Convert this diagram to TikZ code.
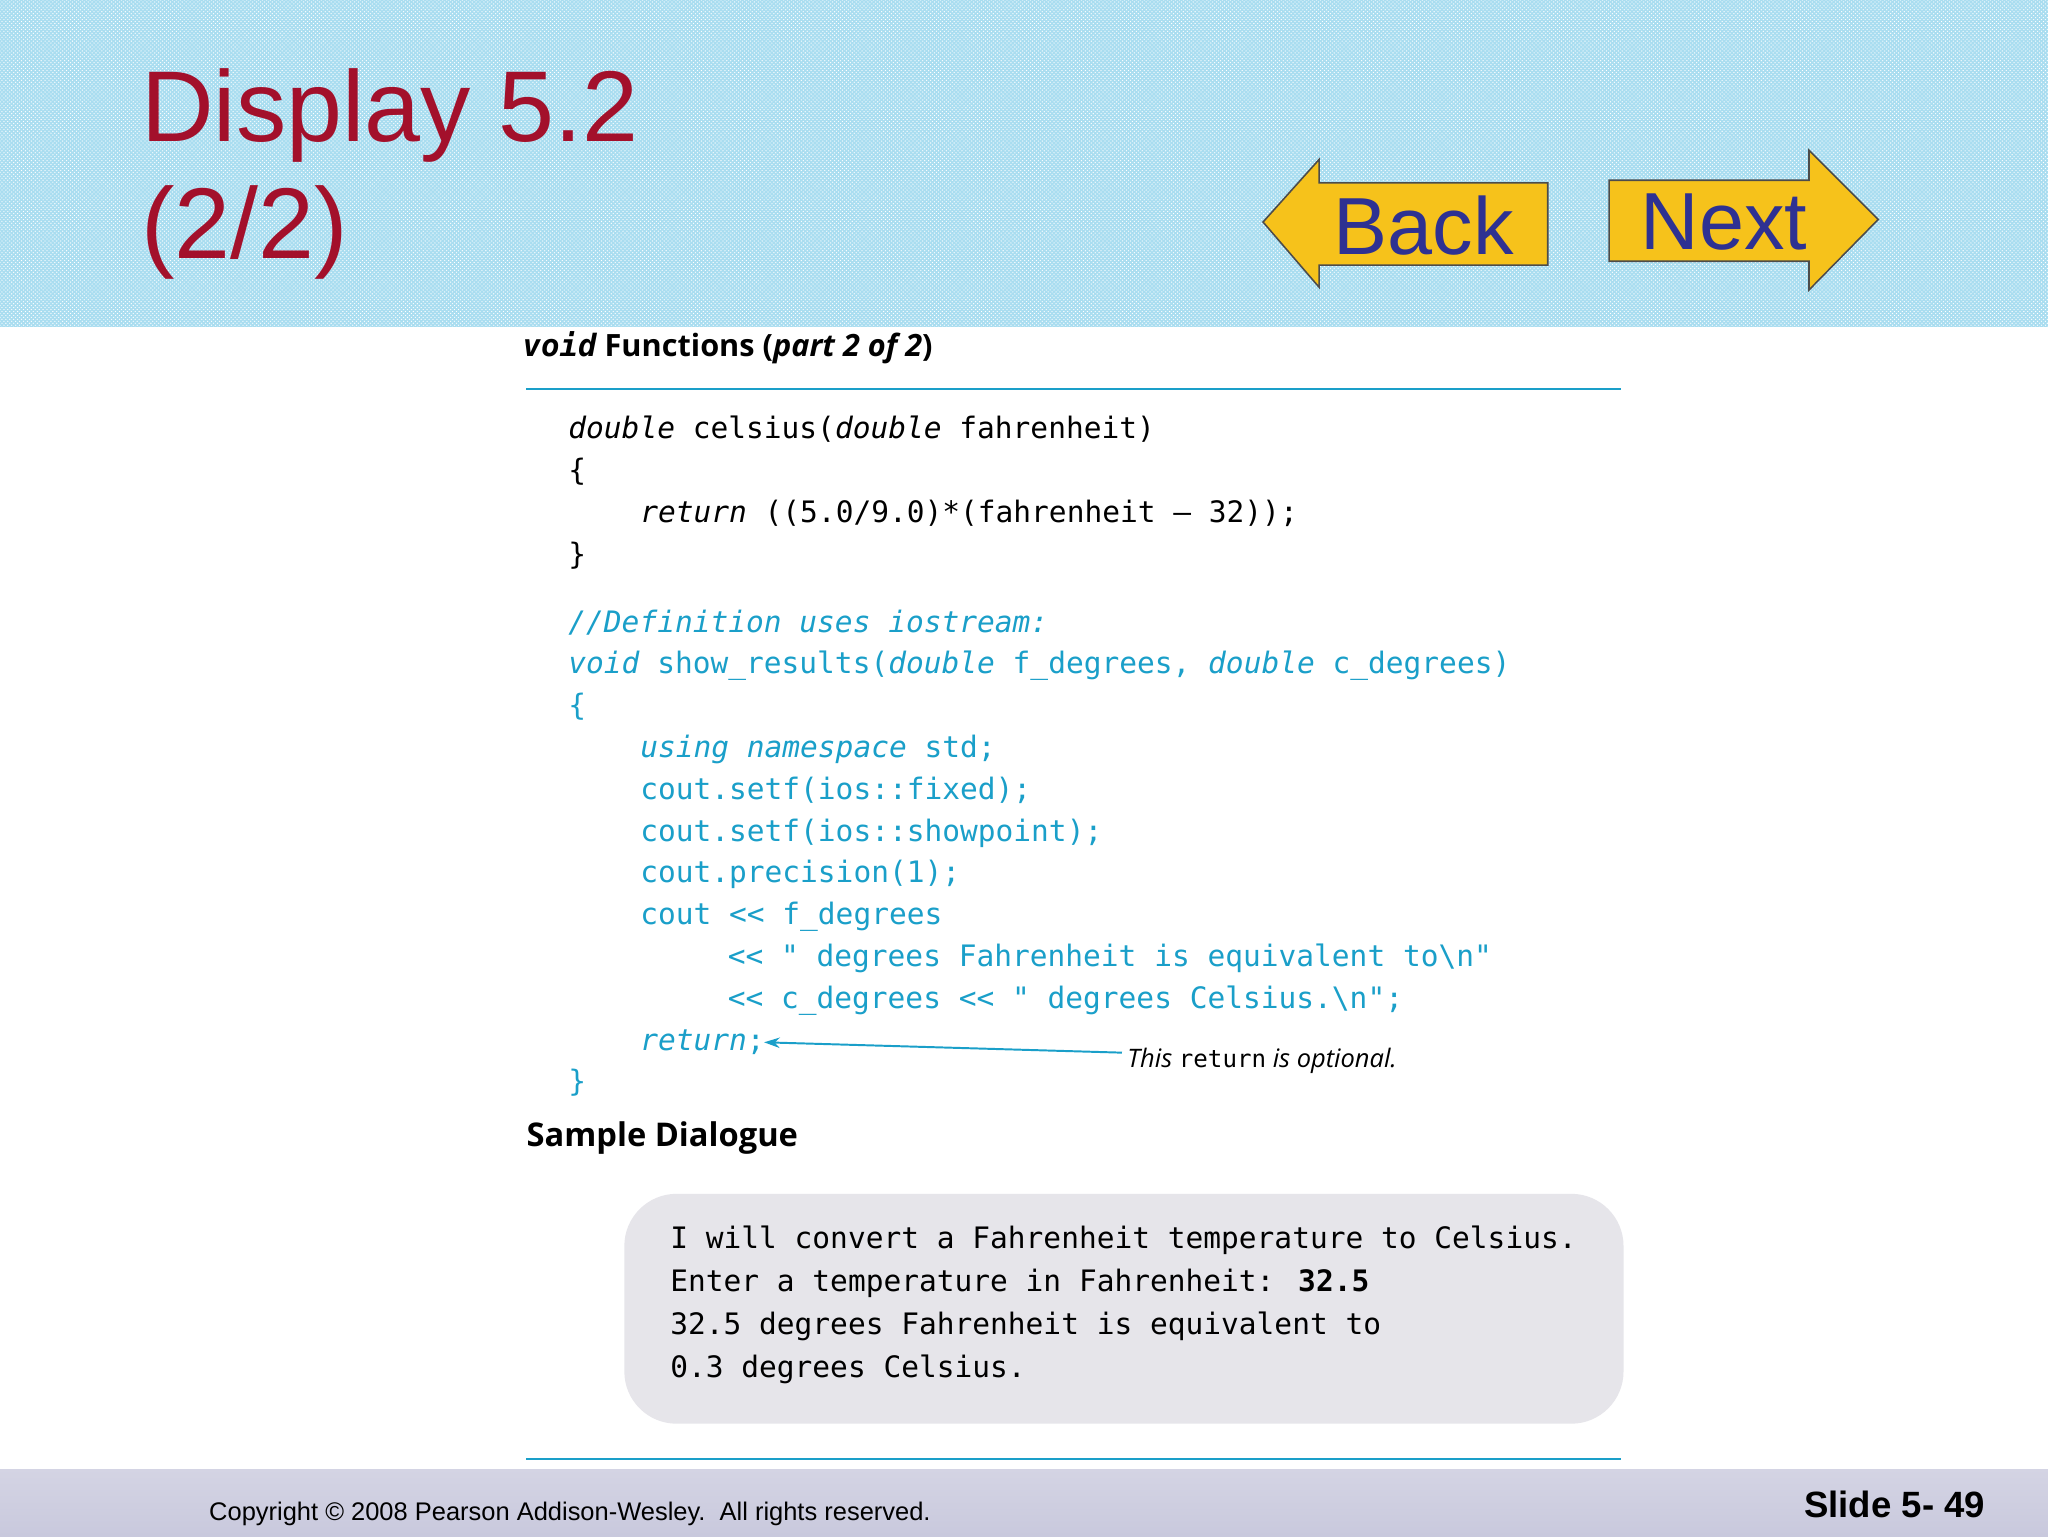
\documentclass[tikz,border=0pt]{standalone}
\usepackage{fontspec}
\setmainfont{Liberation Sans}
\newfontfamily\cmono{DejaVu Sans Mono}[Ligatures=NoCommon]
\newfontfamily\capfont{Open Sans}
\usetikzlibrary{patterns,arrows.meta}
\definecolor{hdr}{HTML}{A9DDF0}
\definecolor{ttl}{HTML}{A3102B}
\definecolor{btn}{HTML}{F6C21B}
\definecolor{btntxt}{HTML}{2E3192}
\definecolor{cblue}{HTML}{1A9FC9}
\definecolor{boxg}{HTML}{E6E5EA}
\definecolor{foot}{HTML}{C9C9DD}
\tikzset{
 code/.style={anchor=base west,inner sep=0pt,font=\cmono\fontsize{22.6}{26}\selectfont},
 bluecode/.style={code,text=cblue},
 btnshape/.style={fill=btn,draw=black!70,line width=1.2pt},
 btnlabel/.style={text=btntxt,font=\fontsize{62}{64}\selectfont,inner sep=0pt},
}
\begin{document}
\begin{tikzpicture}[x=1pt,y=-1pt]
\useasboundingbox (0,0) rectangle (1568,1176);
\fill[white] (0,0) rectangle (1568,1176);
% header
\fill[hdr] (0,0) rectangle (1568,250);
\fill[pattern=crosshatch dots,pattern color=white] (0,0) rectangle (1568,250);
\node[anchor=base west,inner sep=0pt,text=ttl,font=\fontsize{77}{86}\selectfont] (title) at (108,108) {Display 5.2};
\node[anchor=base west,inner sep=0pt,text=ttl,font=\fontsize{77}{86}\selectfont] (title2) at (108,198) {(2/2)};
% back button
\draw[btnshape] (1185,140) -- (1010,140) -- (1010,122) -- (967,170) -- (1010,220) -- (1010,203) -- (1185,203) -- cycle;
\node[btnlabel] (back) at (1090,173) {Back};
\draw[btnshape] (1232,138) -- (1385,138) -- (1385,115) -- (1438,168) -- (1385,222) -- (1385,200) -- (1232,200) -- cycle;
\node[btnlabel] (next) at (1320,170) {Next};
% caption
\node[anchor=base west,inner sep=0pt,font=\capfont\bfseries\fontsize{23.5}{26}\selectfont] (cap) at (400,273) {{\cmono\itshape void} Functions ({\itshape part 2 of 2})};
\draw[cblue,line width=1.2pt] (403,298) -- (1241,298);
\draw[cblue,line width=1.2pt] (403,1117) -- (1241,1117);
% code
\node[code] (l1) at (435,336) {{\itshape double} celsius({\itshape double} fahrenheit)};
\node[code] (l2) at (435,368) {\{};
\node[code] (l3) at (490,400) {{\itshape return} ((5.0/9.0)*(fahrenheit – 32));};
\node[code] (l4) at (435,432) {\}};
\node[bluecode] (l5) at (435,484) {{\itshape //Definition uses iostream:}};
\node[bluecode] (l6) at (435,516) {{\itshape void} show\_results({\itshape double} f\_degrees, {\itshape double} c\_degrees)};
\node[bluecode] (l7) at (435,548) {\{};
\node[bluecode] (l8) at (490,580) {{\itshape using namespace} std;};
\node[bluecode] (l9) at (490,612) {cout.setf(ios::fixed);};
\node[bluecode] (l10) at (490,644) {cout.setf(ios::showpoint);};
\node[bluecode] (l11) at (490,676) {cout.precision(1);};
\node[bluecode] (l12) at (490,708) {cout <{}< f\_degrees};
\node[bluecode] (l13) at (557,740) {<{}< " degrees Fahrenheit is equivalent to\textbackslash n"};
\node[bluecode] (l14) at (557,772) {<{}< c\_degrees <{}< " degrees Celsius.\textbackslash n";};
\node[bluecode] (l15) at (490,804) {{\itshape return};};
\node[bluecode] (l16) at (435,836) {\}};
\node[anchor=base west,inner sep=0pt,font=\capfont\itshape\fontsize{19.5}{22}\selectfont] (opt) at (863,817) {This {\upshape\cmono\fontsize{18.5}{22}\selectfont return} is optional.};
\draw[cblue,line width=1.5pt,-{Stealth[length=12pt,width=8pt]}] (opt.west) ++(-4,-6) coordinate (os) -- (585,798);
% sample dialogue
\node[anchor=base west,inner sep=0pt,font=\capfont\bfseries\fontsize{25}{28}\selectfont] (sd) at (403,878) {Sample Dialogue};
\fill[boxg,rounded corners=40pt] (478,914) rectangle (1243,1090);
\node[code] (d1) at (513,956) {I will convert a Fahrenheit temperature to Celsius.};
\node[code] (d2) at (513,989) {Enter a temperature in Fahrenheit: {\bfseries 32.5}};
\node[code] (d3) at (513,1022) {32.5 degrees Fahrenheit is equivalent to};
\node[code] (d4) at (513,1055) {0.3 degrees Celsius.};
% footer
\shade[top color=foot!80,bottom color=foot] (0,1125) rectangle (1568,1176);
\node[anchor=base west,inner sep=0pt,font=\fontsize{19.5}{22}\selectfont] (copy) at (160,1164) {Copyright © 2008 Pearson Addison-Wesley.\ \ All rights reserved.};
\node[anchor=base east,inner sep=0pt,font=\bfseries\fontsize{28}{30}\selectfont] (slide) at (1520,1162) {Slide 5- 49};
\end{tikzpicture}
\end{document}
